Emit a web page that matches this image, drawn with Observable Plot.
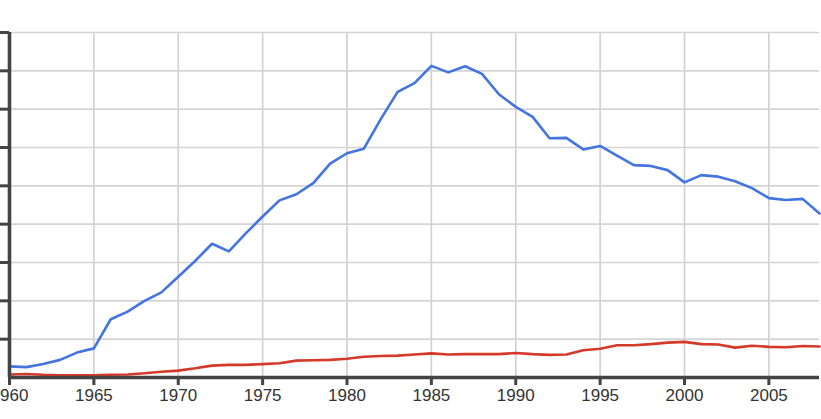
<!DOCTYPE html>
<html>
<head>
<meta charset="utf-8">
<script src="https://cdn.jsdelivr.net/npm/d3@7"></script>
<script src="https://cdn.jsdelivr.net/npm/@observablehq/plot@0.6"></script>
<style>
  html, body { margin: 0; padding: 0; background: #fff; }
  #chart { width: 821px; height: 419px; overflow: hidden; }
  #chart svg text { font-size: 17px; fill: #333; }
</style>
</head>
<body>
<div id="chart"></div>
<script>
const years = d3.range(1960, 2009);
const blueValues = [
  0.29, 0.27, 0.35, 0.46, 0.65, 0.76, 1.52, 1.72, 2.00, 2.22,
  2.63, 3.04, 3.49, 3.29, 3.76, 4.20, 4.62, 4.78, 5.07, 5.58,
  5.85, 5.97, 6.74, 7.45, 7.68, 8.13, 7.96, 8.12, 7.92, 7.39,
  7.06, 6.80, 6.24, 6.25, 5.95, 6.04, 5.79, 5.54, 5.52, 5.41,
  5.09, 5.28, 5.24, 5.12, 4.94, 4.68, 4.63, 4.66, 4.28
];
const redValues = [
  0.08, 0.09, 0.07, 0.06, 0.06, 0.06, 0.07, 0.08, 0.11, 0.15,
  0.18, 0.24, 0.31, 0.33, 0.33, 0.35, 0.37, 0.44, 0.45, 0.46,
  0.49, 0.54, 0.56, 0.57, 0.60, 0.63, 0.60, 0.61, 0.61, 0.61,
  0.64, 0.61, 0.59, 0.60, 0.71, 0.75, 0.84, 0.84, 0.87, 0.91,
  0.93, 0.87, 0.86, 0.78, 0.83, 0.80, 0.79, 0.82, 0.81
];
const xTicks = [1960, 1965, 1970, 1975, 1980, 1985, 1990, 1995, 2000, 2005];
const yTicks = [1, 2, 3, 4, 5, 6, 7, 8, 9];

const blue = years.map((year, i) => ({year, value: blueValues[i]}));
const red = years.map((year, i) => ({year, value: redValues[i]}));

const chart = Plot.plot({
  width: 821,
  height: 419,
  marginLeft: 9,
  marginRight: 2,
  marginTop: 32,
  marginBottom: 42,
  style: {fontFamily: "'Liberation Sans', Arial, Helvetica, sans-serif", fontSize: "17px", background: "#fff"},
  x: {domain: [1960, 2008]},
  y: {domain: [0, 9]},
  marks: [
    Plot.gridX(xTicks.slice(1), {stroke: "#cfcfcf", strokeOpacity: 1, strokeWidth: 1.6}),
    Plot.gridY(yTicks, {stroke: "#d4d4d4", strokeOpacity: 1, strokeWidth: 1.6}),
    Plot.line(red, {x: "year", y: "value", stroke: "#d4392a", strokeWidth: 2.6}),
    Plot.line(blue, {x: "year", y: "value", stroke: "#4374e0", strokeWidth: 2.6}),
    Plot.ruleY([0], {stroke: "#444", strokeWidth: 3.4}),
    Plot.ruleX([1960], {y1: 0, y2: 9, stroke: "#444", strokeWidth: 3.6}),
    Plot.axisY(yTicks, {tickSize: 9, tickPadding: 0, tickFormat: () => "", stroke: "#444", strokeWidth: 3, label: null}),
    Plot.axisX(xTicks, {tickSize: 8, tickPadding: 3, tickFormat: d => String(d), stroke: "#444", strokeWidth: 3, fill: "#333", fontSize: 17, label: null})
  ]
});
document.getElementById("chart").appendChild(chart);
</script>
</body>
</html>
